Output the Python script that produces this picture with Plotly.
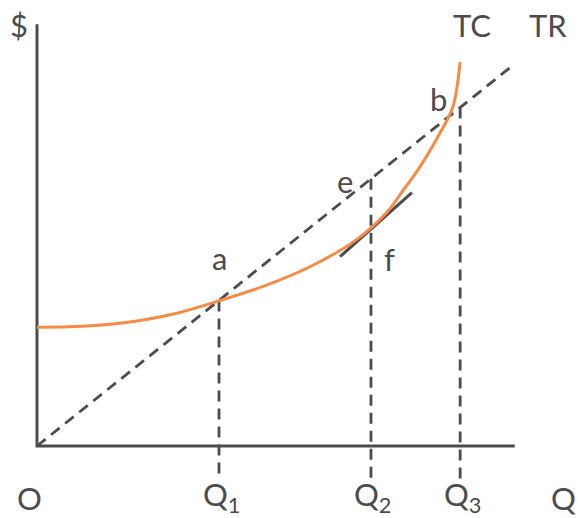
import plotly.graph_objects as go

# Quantity / dollar values (model units)
tc_q = [0.0, 1.0, 2.0, 3.0, 4.0, 5.0, 6.0, 7.0, 7.7, 8.04, 8.24, 8.42, 8.79, 9.08, 9.16, 9.23, 9.30]
tc_cost = [2.61, 2.63, 2.72, 2.90, 3.19, 3.52, 3.94, 4.52, 5.15, 5.61, 5.88, 6.14, 6.76, 7.30, 7.52, 7.88, 8.44]

tr_price = 0.8          # slope of total revenue
tr_q_end = 10.5

q_marks = [4.0, 7.34, 9.3]
q_labels = ["Q<sub>1</sub>", "Q<sub>2</sub>", "Q<sub>3</sub>"]

tangent_q = [6.66, 8.24]
tangent_cost = [4.16, 5.57]

x_axis_end = 10.5
y_axis_end = 9.27
drop_floor = -0.75

PX = 45.5  # pixels per unit
INK = "#4b4b50"
ORANGE = "#f68b45"
FAMILY = "Lato, 'Open Sans', sans-serif"
FONT = dict(family=FAMILY, size=31, color=INK)
DASH = dict(color=INK, width=2.8, dash="11px,7px")

fig = go.Figure()

# axes
fig.add_trace(go.Scatter(x=[0, 0, x_axis_end], y=[y_axis_end, 0, 0], mode="lines",
                         line=dict(color=INK, width=3), hoverinfo="skip"))

# TR line
fig.add_trace(go.Scatter(x=[0, tr_q_end], y=[0, tr_price * tr_q_end], mode="lines",
                         line=DASH, hoverinfo="skip"))

# drop lines from TR to below the Q axis
for q in q_marks:
    fig.add_trace(go.Scatter(x=[q, q], y=[tr_price * q, drop_floor], mode="lines",
                             line=DASH, hoverinfo="skip"))

# tangent at f
fig.add_trace(go.Scatter(x=tangent_q, y=tangent_cost, mode="lines",
                         line=dict(color=INK, width=3), hoverinfo="skip"))

# TC curve
fig.add_trace(go.Scatter(x=tc_q, y=tc_cost, mode="lines",
                         line=dict(color=ORANGE, width=3, shape="spline", smoothing=1.0),
                         hoverinfo="skip"))


def px_to_data(px, py):
    return (px - 37) / PX, (446 - py) / PX


labels = [
    ("$", 19, 25, "center"),
    ("TC", 472, 25, "center"),
    ("TR", 548, 25, "center"),
    ("a", 219, 258, "center"),
    ("e", 345, 181, "center"),
    ("f", 389, 259, "center"),
    ("b", 438, 99, "center"),
    ("O", 29, 498, "center"),
    ("Q", 578, 498, "right"),
]
for text, px, py, anchor in labels:
    x, y = px_to_data(px, py)
    fig.add_annotation(x=x, y=y, text=text, showarrow=False, font=FONT,
                       xanchor=anchor, yanchor="middle")

# Q1, Q2, Q3 under the drop lines
q_y = px_to_data(0, 496)[1]
for q, lab in zip(q_marks, q_labels):
    fig.add_annotation(x=q, y=q_y, xshift=2, text=lab, showarrow=False, font=FONT,
                       xanchor="center", yanchor="middle")

fig.update_layout(
    width=578, height=518, margin=dict(l=0, r=0, t=0, b=0),
    paper_bgcolor="white", plot_bgcolor="white", showlegend=False,
    xaxis=dict(range=[-37 / PX, 541 / PX], visible=False, fixedrange=True),
    yaxis=dict(range=[-72 / PX, 446 / PX], visible=False, fixedrange=True),
)

fig.write_html("out.html")
